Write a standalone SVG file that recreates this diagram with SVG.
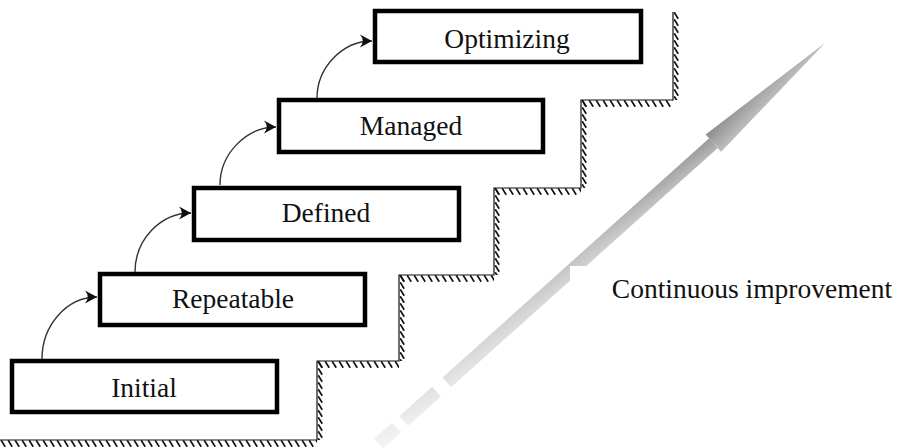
<svg xmlns="http://www.w3.org/2000/svg" width="900" height="448" viewBox="0 0 900 448">
  <style>
    .box rect { fill: #ffffff; stroke: #000000; stroke-width: 4.5; }
    .label { font-family: "Liberation Serif", "Times New Roman", serif; font-size: 27.5px; fill: #111111; }
    .box text { text-anchor: middle; }
    .link { fill: none; stroke: #333333; stroke-width: 1.4; marker-end: url(#head); }
    .stair { fill: none; stroke: #111111; stroke-width: 1.2; }
    .hatch { fill: url(#ticks); }
  </style>
  <defs>
    <!-- short slanted ticks on the solid side of the stair line -->
    <pattern id="ticks" patternUnits="userSpaceOnUse" width="7" height="7">
      <path d="M1.2,0.3 L5.2,6.8" stroke="#111111" stroke-width="1.7" fill="none"/>
    </pattern>
    <marker id="head" markerUnits="userSpaceOnUse" markerWidth="16" markerHeight="16" refX="0" refY="0" viewBox="-13 -8 16 16" orient="auto">
      <path d="M0,0 L-12,-6.5 Q-6.5,0 -12,6.5 Z" fill="#111111"/>
    </marker>
    <linearGradient id="shaftShade" gradientUnits="userSpaceOnUse" x1="-620" y1="0" x2="0" y2="0">
      <stop offset="0" stop-color="#f4f4f4"/>
      <stop offset="0.15" stop-color="#dedede"/>
      <stop offset="0.5" stop-color="#b8b8b8"/>
      <stop offset="0.76" stop-color="#8c8c8c"/>
      <stop offset="1" stop-color="#aaaaaa"/>
    </linearGradient>
    <linearGradient id="sideLight" gradientUnits="userSpaceOnUse" x1="0" y1="-12" x2="0" y2="12">
      <stop offset="0" stop-color="#ffffff" stop-opacity="0"/>
      <stop offset="1" stop-color="#ffffff" stop-opacity="0.45"/>
    </linearGradient>
  </defs>

  <rect width="900" height="448" fill="#ffffff"/>

  <!-- staircase outline with hatching -->
  <g id="staircase">
    <path class="stair" d="M0,440 H317 V361 H399 V275 H494 V188 H581 V100 H673 V12"/>
    <g transform="translate(0,440)"><rect class="hatch" width="317" height="7"/></g>
    <g transform="translate(317,361)"><rect class="hatch" width="7" height="79"/></g>
    <g transform="translate(317,361)"><rect class="hatch" width="82" height="7"/></g>
    <g transform="translate(399,275)"><rect class="hatch" width="7" height="86"/></g>
    <g transform="translate(399,275)"><rect class="hatch" width="95" height="7"/></g>
    <g transform="translate(494,188)"><rect class="hatch" width="7" height="87"/></g>
    <g transform="translate(494,188)"><rect class="hatch" width="87" height="7"/></g>
    <g transform="translate(581,100)"><rect class="hatch" width="7" height="88"/></g>
    <g transform="translate(581,100)"><rect class="hatch" width="92" height="7"/></g>
    <g transform="translate(673,12)"><rect class="hatch" width="7" height="88"/></g>
  </g>

  <!-- shaded improvement arrow -->
  <g id="improvement-arrow" transform="translate(825,43) rotate(-41.9)">
    <g fill="url(#shaftShade)">
      <rect x="-600" y="-6.5" width="24" height="13"/>
      <rect x="-566" y="-6.5" width="44" height="13"/>
      <rect x="-508" y="-6.5" width="359" height="13"/>
      <polygon points="0,0 -150,-11.5 -150,11.5"/>
    </g>
    <g fill="url(#sideLight)">
      <rect x="-600" y="-6.5" width="24" height="13"/>
      <rect x="-566" y="-6.5" width="44" height="13"/>
      <rect x="-508" y="-6.5" width="359" height="13"/>
      <polygon points="0,0 -150,-11.5 -150,11.5"/>
    </g>
  </g>

  <!-- caption with its white backing -->
  <g id="caption">
    <rect x="570" y="266" width="330" height="50" fill="#ffffff"/>
    <text class="label" x="752" y="298" text-anchor="middle">Continuous improvement</text>
  </g>

  <!-- level boxes -->
  <g id="initial" class="box">
    <rect x="12" y="361" width="265" height="51"/>
    <text class="label" x="144" y="397">Initial</text>
  </g>
  <g id="repeatable" class="box">
    <rect x="100" y="274" width="265" height="51"/>
    <text class="label" x="233" y="308">Repeatable</text>
  </g>
  <g id="defined" class="box">
    <rect x="194" y="188" width="265" height="52"/>
    <text class="label" x="326" y="222">Defined</text>
  </g>
  <g id="managed" class="box">
    <rect x="279" y="100" width="264" height="52"/>
    <text class="label" x="411" y="135">Managed</text>
  </g>
  <g id="optimizing" class="box">
    <rect x="375" y="11" width="266" height="51"/>
    <text class="label" x="507" y="48">Optimizing</text>
  </g>

  <!-- curved links between levels -->
  <g id="connectors">
    <path class="link" d="M42,359 C42,325 67,297 97,297"/>
    <path class="link" d="M135,272 C135,240 160,213 191,213"/>
    <path class="link" d="M220,185 C220,154 246,127 276,127"/>
    <path class="link" d="M317,98 C317,68 342,41 372,41"/>
  </g>
</svg>
